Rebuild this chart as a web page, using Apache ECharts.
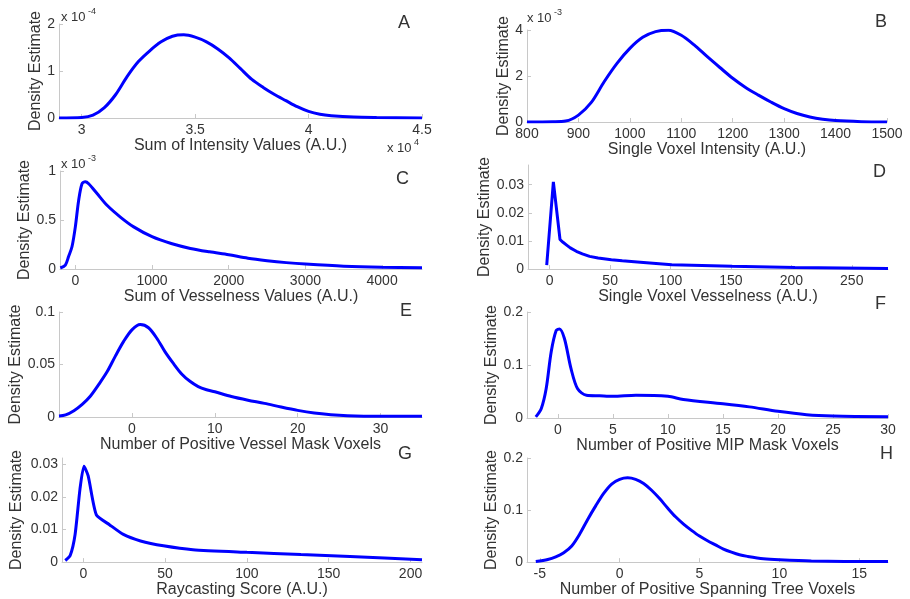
<!DOCTYPE html>
<html><head><meta charset="utf-8">
<script src="https://cdn.jsdelivr.net/npm/echarts@6/dist/echarts.min.js"></script>
<style>html,body{margin:0;padding:0;background:#fff}#c{width:910px;height:599px}</style>
</head><body><div id="c"></div>
<script>
// ---- Data (A: x in units of 1e4, y in units of 1e-4; B: y in 1e-3; C: y in 1e-3) ----
const aX = [2.9, 3.0, 3.05, 3.1, 3.15, 3.2, 3.25, 3.3, 3.35, 3.4, 3.45, 3.5, 3.55, 3.6, 3.65, 3.7, 3.75, 3.8, 3.85, 3.9, 3.95, 4.0, 4.05, 4.1, 4.2, 4.3, 4.5];
const aY = [0, 0.01, 0.06, 0.22, 0.5, 0.88, 1.2, 1.43, 1.62, 1.74, 1.77, 1.72, 1.62, 1.47, 1.28, 1.05, 0.82, 0.65, 0.5, 0.37, 0.24, 0.14, 0.08, 0.05, 0.02, 0.01, 0];
const aXTicks = [3, 3.5, 4, 4.5];
const aYTicks = [0, 1, 2];

const bX = [800, 850, 875, 900, 925, 950, 975, 1000, 1025, 1050, 1075, 1100, 1125, 1150, 1175, 1200, 1225, 1250, 1275, 1300, 1325, 1350, 1375, 1400, 1450, 1500];
const bY = [0, 0.01, 0.04, 0.3, 0.85, 1.75, 2.55, 3.2, 3.68, 3.93, 3.99, 3.77, 3.35, 2.85, 2.37, 1.9, 1.5, 1.17, 0.86, 0.58, 0.37, 0.22, 0.12, 0.06, 0.015, 0];
const bXTicks = [800, 900, 1000, 1100, 1200, 1300, 1400, 1500];
const bYTicks = [0, 2, 4];

const cX = [-196, -130, -87, -43, 0, 43, 87, 130, 174, 283, 413, 587, 761, 1000, 1250, 1500, 1750, 2000, 2250, 2500, 2750, 3000, 3500, 4000, 4520];
const cY = [0.01, 0.04, 0.13, 0.23, 0.43, 0.70, 0.87, 0.89, 0.87, 0.77, 0.65, 0.53, 0.43, 0.33, 0.26, 0.21, 0.175, 0.145, 0.11, 0.085, 0.065, 0.05, 0.028, 0.017, 0.013];
const cXTicks = [0, 1000, 2000, 3000, 4000];
const cYTicks = [0, 0.5, 1];

const dX = [-2.5, 3, 8.5, 11, 14, 17, 22, 27, 33, 40, 51, 60, 75, 101, 151, 203, 280];
const dY = [0.0014, 0.031, 0.0105, 0.0095, 0.0085, 0.0075, 0.0063, 0.0054, 0.0045, 0.0039, 0.0033, 0.0029, 0.0024, 0.0015, 0.001, 0.0005, 0.0002];
const dXTicks = [0, 50, 100, 150, 200, 250];
const dYTicks = [0, 0.01, 0.02, 0.03];

const eX = [-8.8, -8, -7, -6, -5, -4, -3, -2, -1, 0, 1, 2, 3, 4, 5, 6, 7, 8, 9, 10, 12, 14, 16, 18, 20, 22, 24, 26, 28, 35];
const eY = [0.001, 0.002, 0.006, 0.012, 0.02, 0.031, 0.043, 0.058, 0.072, 0.083, 0.088, 0.085, 0.075, 0.062, 0.051, 0.041, 0.034, 0.029, 0.026, 0.024, 0.0195, 0.016, 0.013, 0.0095, 0.0063, 0.0038, 0.0022, 0.0012, 0.0008, 0.0006];
const eXTicks = [0, 10, 20, 30];
const eYTicks = [0, 0.05, 0.1];

const fX = [-2.0, -1.5, -1.06, -0.6, -0.15, 0.15, 0.6, 1.2, 1.8, 2.6, 3.8, 5, 7.1, 10, 11.4, 15, 17.4, 20, 22.6, 25, 30];
const fY = [0.002, 0.018, 0.055, 0.125, 0.165, 0.168, 0.15, 0.093, 0.055, 0.043, 0.042, 0.041, 0.043, 0.041, 0.035, 0.027, 0.021, 0.0126, 0.0063, 0.0038, 0.0025];
const fXTicks = [0, 5, 10, 15, 20, 25, 30];
const fYTicks = [0, 0.1, 0.2];

const gX = [-11, -8, -5, -2, 0.4, 3, 8, 16, 24.5, 35, 49, 67, 100, 133, 163, 207];
const gY = [0.0005, 0.002, 0.0085, 0.0225, 0.0295, 0.0265, 0.0145, 0.0115, 0.0085, 0.0065, 0.005, 0.0038, 0.003, 0.0023, 0.0017, 0.0007];
const gXTicks = [0, 50, 100, 150, 200];
const gYTicks = [0, 0.01, 0.02, 0.03];

const hX = [-5.25, -4.5, -4, -3.5, -3, -2.5, -2, -1.5, -1, -0.5, 0, 0.5, 1, 1.5, 2, 2.5, 3, 3.5, 4, 4.5, 5, 5.5, 6, 6.5, 7, 7.5, 8, 9, 10, 12, 16.8];
const hY = [0.001, 0.005, 0.01, 0.018, 0.031, 0.054, 0.082, 0.108, 0.132, 0.15, 0.159, 0.162, 0.159, 0.151, 0.138, 0.122, 0.104, 0.087, 0.073, 0.061, 0.05, 0.041, 0.033, 0.025, 0.019, 0.014, 0.011, 0.0065, 0.0044, 0.002, 0.001];
const hXTicks = [-5, 0, 5, 10, 15];
const hYTicks = [0, 0.1, 0.2];

const xNames = ['Sum of Intensity Values (A.U.)', 'Single Voxel Intensity (A.U.)', 'Sum of Vesselness Values (A.U.)', 'Single Voxel Vesselness (A.U.)',
  'Number of Positive Vessel Mask Voxels', 'Number of Positive MIP Mask Voxels', 'Raycasting Score (A.U.)', 'Number of Positive Spanning Tree Voxels'];
const panelLetters = ['A', 'B', 'C', 'D', 'E', 'F', 'G', 'H'];
const yName = 'Density Estimate';

// ---- Layout ----
const FONT = '"Liberation Sans", Arial, Helvetica, sans-serif';
const TXT = '#333';
const AX = '#c8c8c8';
const panels = [
  { x: aX, y: aY, xt: aXTicks, yt: aYTicks, xr: [2.9, 4.5], yr: [0, 2], box: [59, 24, 363, 94], yGap: 12, smooth: 0.3, letter: [405, 24] },
  { x: bX, y: bY, xt: bXTicks, yt: bYTicks, xr: [800, 1500], yr: [0, 4], box: [527, 30, 360, 92], yGap: 7, smooth: 0.3, letter: [882, 23] },
  { x: cX, y: cY, xt: cXTicks, yt: cYTicks, xr: [-200, 4520], yr: [0, 1], box: [60, 171, 362, 98], yGap: 26, smooth: 0.3, letter: [403, 180] },
  { x: dX, y: dY, xt: dXTicks, yt: dYTicks, xr: [-18, 280], yr: [0, 0.037], box: [528, 165, 360, 104], yGap: 35, smooth: false, letter: [880, 173] },
  { x: eX, y: eY, xt: eXTicks, yt: eYTicks, xr: [-8.8, 35], yr: [0, 0.1], box: [59, 312, 363, 105], yGap: 35, smooth: 0.3, letter: [407, 312] },
  { x: fX, y: fY, xt: fXTicks, yt: fYTicks, xr: [-2.8, 30], yr: [0, 0.2], box: [527, 312, 361, 106], yGap: 26, smooth: 0.3, letter: [882, 305] },
  { x: gX, y: gY, xt: gXTicks, yt: gYTicks, xr: [-13, 207], yr: [0, 0.032], box: [62, 458, 360, 107], yGap: 37, smooth: 0.2, letter: [405, 455] },
  { x: hX, y: hY, xt: hXTicks, yt: hYTicks, xr: [-5.8, 16.8], yr: [0, 0.2], box: [527, 458, 361, 106], yGap: 27, smooth: 0.3, letter: [887, 455] }
];

const grid = [], xAxis = [], yAxis = [], series = [], graphic = [];
const fmt = v => String(+v.toFixed(6));
panels.forEach((p, i) => {
  grid.push({ left: p.box[0], top: p.box[1], width: p.box[2], height: p.box[3], containLabel: false });
  xAxis.push({
    type: 'value', gridIndex: i, min: p.xr[0], max: p.xr[1],
    name: xNames[i], nameLocation: 'middle', nameGap: 15,
    nameTextStyle: { color: TXT, fontSize: 16, fontFamily: FONT },
    axisLine: { show: true, onZero: false, lineStyle: { color: AX, width: 1 } },
    axisTick: { show: true, inside: true, length: 4, lineStyle: { color: AX }, customValues: p.xt },
    axisLabel: { color: TXT, fontSize: 14, fontFamily: FONT, margin: 5, customValues: p.xt, formatter: fmt, hideOverlap: false },
    splitLine: { show: false }
  });
  yAxis.push({
    type: 'value', gridIndex: i, min: p.yr[0], max: p.yr[1],
    name: yName, nameLocation: 'middle', nameGap: p.yGap, nameRotate: 90,
    nameTextStyle: { color: TXT, fontSize: 16, fontFamily: FONT },
    axisLine: { show: true, onZero: false, lineStyle: { color: AX, width: 1 } },
    axisTick: { show: true, inside: true, length: 4, lineStyle: { color: AX }, customValues: p.yt },
    axisLabel: { color: TXT, fontSize: 14, fontFamily: FONT, margin: 4, customValues: p.yt, formatter: fmt },
    splitLine: { show: false }
  });
  series.push({
    type: 'line', xAxisIndex: i, yAxisIndex: i, showSymbol: false, symbol: 'none', smooth: p.smooth,
    lineStyle: { color: '#0000ff', width: 3 }, data: p.x.map((v, k) => [v, p.y[k]]), animation: false, silent: true
  });
  graphic.push({ type: 'text', left: p.letter[0] - 7, top: p.letter[1] - 10,
    style: { text: panelLetters[i], fill: TXT, font: '18px ' + FONT } });
});
// exponent annotations
function mult(x, y, exp) {
  graphic.push({ type: 'text', left: x, top: y, style: { text: 'x 10', fill: TXT, font: '13px ' + FONT } });
  graphic.push({ type: 'text', left: x + 27, top: y - 4, style: { text: exp, fill: TXT, font: '9px ' + FONT } });
}
mult(61, 11, '-4');
mult(527, 12, '-3');
mult(61, 158, '-3');
mult(387, 142, '4');

const chart = echarts.init(document.getElementById('c'), null, { renderer: 'canvas' });
chart.setOption({ animation: false, backgroundColor: '#fff', grid, xAxis, yAxis, series, graphic });
</script></body></html>
